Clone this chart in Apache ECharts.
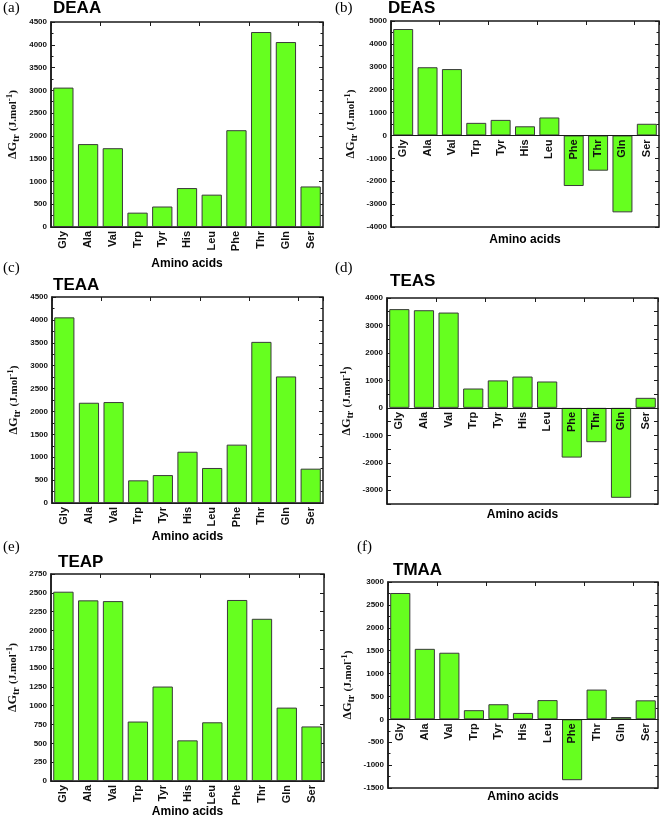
<!DOCTYPE html>
<html>
<head>
<meta charset="utf-8">
<script src="https://cdn.jsdelivr.net/npm/echarts@6/dist/echarts.min.js"></script>
<style>
  html, body { margin: 0; padding: 0; background: #ffffff; }
  #chart { width: 661px; height: 818px; }
</style>
</head>
<body>
<div id="chart"></div>
<script>
// 氨基酸类别
const aminoAcids = ['Gly', 'Ala', 'Val', 'Trp', 'Tyr', 'His', 'Leu', 'Phe', 'Thr', 'Gln', 'Ser'];

// ΔGtr 数值（J.mol-1）
const deaa = [3060, 1820, 1730, 315, 450, 855, 710, 2125, 4280, 4060, 890];
const deas = [4650, 2980, 2900, 550, 680, 400, 785, -2210, -1540, -3360, 510];
const teaa = [4055, 2190, 2205, 495, 610, 1120, 765, 1275, 3520, 2765, 750];
const teas = [3595, 3555, 3470, 705, 1000, 1140, 960, -1810, -1250, -3275, 365];
const teap = [2515, 2400, 2390, 790, 1255, 540, 780, 2405, 2155, 975, 725];
const tmaa = [2760, 1540, 1455, 200, 330, 140, 420, -1330, 650, 50, 415];

// 面板设置
const panels = [
    { title: 'DEAA', tag: '(a)', data: deaa, min: 0, max: 4500, interval: 500, labelStep: 500, minor: true,
      grid: { left: 51, top: 22, width: 272, height: 205 }, nameGap: 30, xNameGap: 31,
      titlePos: [53, 0], tagPos: [3, 1] },
    { title: 'DEAS', tag: '(b)', data: deas, min: -4000, max: 5000, interval: 1000, labelStep: 1000, minor: true,
      grid: { left: 391, top: 21, width: 268, height: 206 }, nameGap: 32, xNameGap: 7,
      titlePos: [388, 0], tagPos: [335, 1] },
    { title: 'TEAA', tag: '(c)', data: teaa, min: 0, max: 4500, interval: 500, labelStep: 500, minor: true,
      grid: { left: 52, top: 297, width: 271, height: 206 }, nameGap: 30, xNameGap: 28,
      titlePos: [53, 277], tagPos: [3, 261] },
    { title: 'TEAS', tag: '(d)', data: teas, min: -3500, max: 4000, interval: 500, labelStep: 1000, minor: false,
      grid: { left: 387, top: 298, width: 271, height: 206 }, nameGap: 32, xNameGap: 5,
      titlePos: [390, 273], tagPos: [335, 261] },
    { title: 'TEAP', tag: '(e)', data: teap, min: 0, max: 2750, interval: 250, labelStep: 250, minor: false,
      grid: { left: 51, top: 574, width: 273, height: 207 }, nameGap: 30, xNameGap: 25,
      titlePos: [58, 554], tagPos: [3, 540] },
    { title: 'TMAA', tag: '(f)', data: tmaa, min: -1500, max: 3000, interval: 500, labelStep: 500, minor: true,
      grid: { left: 388, top: 582, width: 270, height: 206 }, nameGap: 32, xNameGap: 3,
      titlePos: [393, 562], tagPos: [357, 540] },
];

const sansBold = { fontFamily: 'Liberation Sans, Arial, sans-serif', fontWeight: 'bold', color: '#111' };
const serif = 'Liberation Serif, Times New Roman, serif';

// y 轴标题（带上下标）
const yName = '{d|ΔG}{s|tr} {u|(J.mol}{p|-1}{u|)}';
const yNameRich = {
    d: { fontFamily: serif, fontWeight: 'bold', fontSize: 12, color: '#111' },
    s: { fontFamily: serif, fontWeight: 'bold', fontSize: 10, color: '#111', padding: [6, 0, 0, 0] },
    u: { fontFamily: serif, fontWeight: 'bold', fontSize: 11, color: '#111' },
    p: { fontFamily: serif, fontWeight: 'bold', fontSize: 9, color: '#111', padding: [0, 0, 7, 0] }
};

const catLabel = { rotate: 90, margin: 4, ...sansBold, fontSize: 11, interval: 0 };

const option = {
    backgroundColor: '#ffffff',
    animation: false,
    title: [],
    grid: [],
    xAxis: [],
    yAxis: [],
    series: []
};

panels.forEach(p => {
    const gi = option.grid.length;
    const hasNeg = p.min < 0;

    option.title.push({
        text: p.title, left: p.titlePos[0], top: p.titlePos[1], padding: 0,
        textStyle: { ...sansBold, fontSize: 17, color: '#000' }
    });
    option.title.push({
        text: p.tag, left: p.tagPos[0], top: p.tagPos[1], padding: 0,
        textStyle: { fontFamily: serif, fontWeight: 'normal', fontSize: 15, color: '#000' }
    });

    // outerBoundsMode none: 保持网格位置不被自动收缩
    option.grid.push({
        ...p.grid, outerBoundsMode: 'none', show: true,
        borderColor: '#1a1a1a', borderWidth: 1.5, backgroundColor: 'transparent'
    });

    // 主类别轴
    const xi = option.xAxis.length;
    option.xAxis.push({
        gridIndex: gi, type: 'category', data: aminoAcids, position: 'bottom', z: 10,
        axisLine: { onZero: true, lineStyle: { color: '#1a1a1a', width: 1.2 } },
        axisTick: { show: false },
        axisLabel: hasNeg ? { show: false } : catLabel
    });
    // 顶部刻度
    option.xAxis.push({
        gridIndex: gi, type: 'category', data: aminoAcids, position: 'top',
        axisLine: { show: false, onZero: false },
        axisTick: { show: true, inside: true, length: 4, lineStyle: { color: '#1a1a1a' } },
        axisLabel: { show: false }
    });
    // x 轴标题
    option.xAxis.push({
        gridIndex: gi, type: 'category', data: aminoAcids, position: 'bottom',
        axisLine: { show: false, onZero: false }, axisTick: { show: false }, axisLabel: { show: false },
        name: 'Amino acids', nameLocation: 'middle', nameGap: p.xNameGap,
        nameTextStyle: { ...sansBold, fontSize: 12, color: '#000' }
    });

    const yi = option.yAxis.length;
    const yCommon = {
        gridIndex: gi, type: 'value', min: p.min, max: p.max, interval: p.interval,
        splitLine: { show: false },
        axisTick: { show: true, inside: true, length: 4, lineStyle: { color: '#1a1a1a' } },
        minorTick: { show: p.minor, splitNumber: 2, length: 2.5, lineStyle: { color: '#1a1a1a' } },
        minorSplitLine: { show: false }
    };
    option.yAxis.push({
        ...yCommon, position: 'left',
        axisLine: { show: true, lineStyle: { color: '#1a1a1a', width: 1.5 } },
        axisLabel: {
            ...sansBold, fontSize: 8, margin: 4,
            formatter: v => (v % p.labelStep === 0 ? String(v) : '')
        },
        name: yName, nameLocation: 'middle', nameRotate: 90, nameGap: p.nameGap,
        nameTextStyle: { rich: yNameRich }
    });
    option.yAxis.push({
        ...yCommon, position: 'right',
        axisLine: { show: false },
        axisLabel: { show: false }
    });

    option.series.push({
        type: 'bar', name: p.title, data: p.data,
        xAxisIndex: xi, yAxisIndex: yi,
        barCategoryGap: '18%',
        itemStyle: { color: '#66ff1f', borderColor: '#3a3a3a', borderWidth: 1 }
    });

    // 有负值时，类别标签放在零线处：用一个底边与零线对齐的辅助网格
    if (hasNeg) {
        const lg = option.grid.length;
        const zeroY = p.grid.top + p.grid.height * p.max / (p.max - p.min);
        option.grid.push({
            left: p.grid.left, width: p.grid.width, top: zeroY - 10, height: 10,
            outerBoundsMode: 'none', show: false
        });
        option.xAxis.push({
            gridIndex: lg, type: 'category', data: aminoAcids, position: 'bottom', z: 10,
            axisLine: { show: false, onZero: false }, axisTick: { show: false },
            axisLabel: catLabel
        });
        option.yAxis.push({ gridIndex: lg, type: 'value', show: false });
    }
});

const myChart = echarts.init(document.getElementById('chart'), null, { renderer: 'canvas' });
myChart.setOption(option);
</script>
</body>
</html>
